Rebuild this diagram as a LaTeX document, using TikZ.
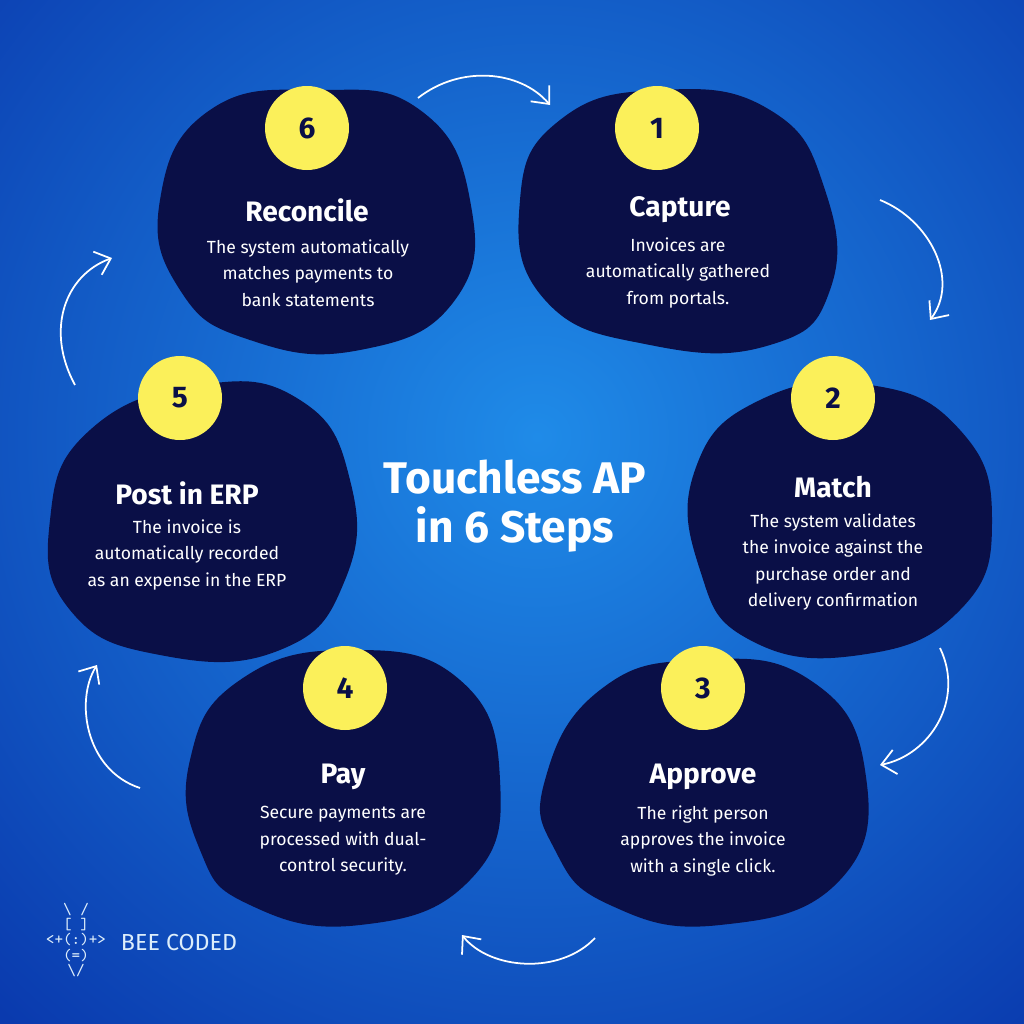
\documentclass[tikz,border=0pt]{standalone}
\usepackage{fontspec}
\setmainfont{Fira Sans}
\usetikzlibrary{arrows.meta}
\definecolor{navy}{HTML}{0A0F47}
\definecolor{yel}{HTML}{FBF05A}
\definecolor{bgc}{HTML}{1F8BE8}
\definecolor{bge}{HTML}{0A3AAE}
\begin{document}
\begin{tikzpicture}[x=0.01cm,y=-0.01cm,
 blob/.style={fill=navy},
 num/.style={circle,fill=yel,minimum size=84*0.01cm,inner sep=0,font=\fontsize{8.5}{10}\selectfont\bfseries,text=navy},
 head/.style={text=white,font=\fontsize{8}{9}\selectfont\bfseries},
 body/.style={text=white,align=center,font=\fontsize{5}{7.5}\selectfont},
 arr/.style={white,line width=0.5pt,-{Straight Barb[length=4pt,width=7pt]}}]
\useasboundingbox (0,0) rectangle (1024,1024);
\shade[inner color=bgc,outer color=bge] (-250,-350) rectangle (1324,1224);
% blobs
\fill[blob] plot[smooth cycle,tension=0.8] coordinates{(520,200)(560,120)(660,90)(770,110)(825,190)(830,290)(770,345)(650,345)(545,300)};
\fill[blob] plot[smooth cycle,tension=0.8] coordinates{(695,470)(760,400)(870,385)(960,430)(992,520)(960,610)(860,655)(750,640)(700,570)};
\fill[blob] plot[smooth cycle,tension=0.8] coordinates{(545,780)(600,690)(700,660)(810,680)(865,770)(840,880)(720,925)(610,905)(555,850)};
\fill[blob] plot[smooth cycle,tension=0.8] coordinates{(190,760)(240,680)(350,650)(460,680)(500,780)(470,880)(360,925)(250,905)(200,850)};
\fill[blob] plot[smooth cycle,tension=0.8] coordinates{(50,520)(90,430)(200,385)(300,400)(350,480)(345,580)(280,650)(160,655)(70,610)};
\fill[blob] plot[smooth cycle,tension=0.8] coordinates{(160,200)(210,110)(320,90)(420,110)(470,200)(455,300)(360,350)(250,340)(180,290)};
% numbers
\node[num] (n1) at (657,128) {1};
\node[num] (n2) at (833,398) {2};
\node[num] (n3) at (703,688) {3};
\node[num] (n4) at (345,688) {4};
\node[num] (n5) at (180,398) {5};
\node[num] (n6) at (307,128) {6};
% texts
\node[head] (h1) at (680,210) {Capture};
\node[body] (b1) at (678,273) {Invoices are\\automatically gathered\\from portals.};
\node[head] (h2) at (833,487) {Match};
\node[body] (b2) at (833,562) {The system validates\\the invoice against the\\purchase order and\\delivery confirmation};
\node[head] (h3) at (703,777) {Approve};
\node[body] (b3) at (703,841) {The right person\\approves the invoice\\with a single click.};
\node[head] (h4) at (343,777) {Pay};
\node[body] (b4) at (343,841) {Secure payments are\\processed with dual-\\control security.};
\node[head] (h5) at (187,493) {Post in ERP};
\node[body] (b5) at (187,555) {The invoice is\\automatically recorded\\as an expense in the ERP};
\node[head] (h6) at (307,210) {Reconcile};
\node[body] (b6) at (308,273) {The system automatically\\matches payments to\\bank statements};
\node[text=white,align=center,font=\fontsize{12.6}{14}\selectfont\bfseries] (t) at (515,506) {Touchless AP\\in 6 Steps};
% arrows
\coordinate (a1s) at (418,98); \coordinate (a1e) at (550,105);
\draw[arr] (a1s) .. controls (460,65) and (520,70) .. (a1e);
\coordinate (a2s) at (880,200); \coordinate (a2e) at (930,320);
\draw[arr] (a2s) .. controls (930,220) and (960,280) .. (a2e);
\coordinate (a3s) at (940,648); \coordinate (a3e) at (880,765);
\draw[arr] (a3s) .. controls (965,700) and (930,755) .. (a3e);
\coordinate (a4s) at (595,938); \coordinate (a4e) at (462,935);
\draw[arr] (a4s) .. controls (560,975) and (490,970) .. (a4e);
\coordinate (a5s) at (140,788); \coordinate (a5e) at (97,665);
\draw[arr] (a5s) .. controls (85,770) and (75,700) .. (a5e);
\coordinate (a6s) at (75,385); \coordinate (a6e) at (112,258);
\draw[arr] (a6s) .. controls (45,330) and (65,275) .. (a6e);
% logo
\node[text=white!85!bgc,font=\fontsize{6.6}{7}\selectfont] (logo) at (179,942) {BEE CODED};
\node[text=white!85!bgc,align=center,inner sep=0,font=\ttfamily\fontsize{4.6}{4.4}\selectfont] (bee) at (76,940) {\textbackslash{} /\\{[} ]\\<+(:)+>\\(=)\\\textbackslash/};
\end{tikzpicture}
\end{document}
